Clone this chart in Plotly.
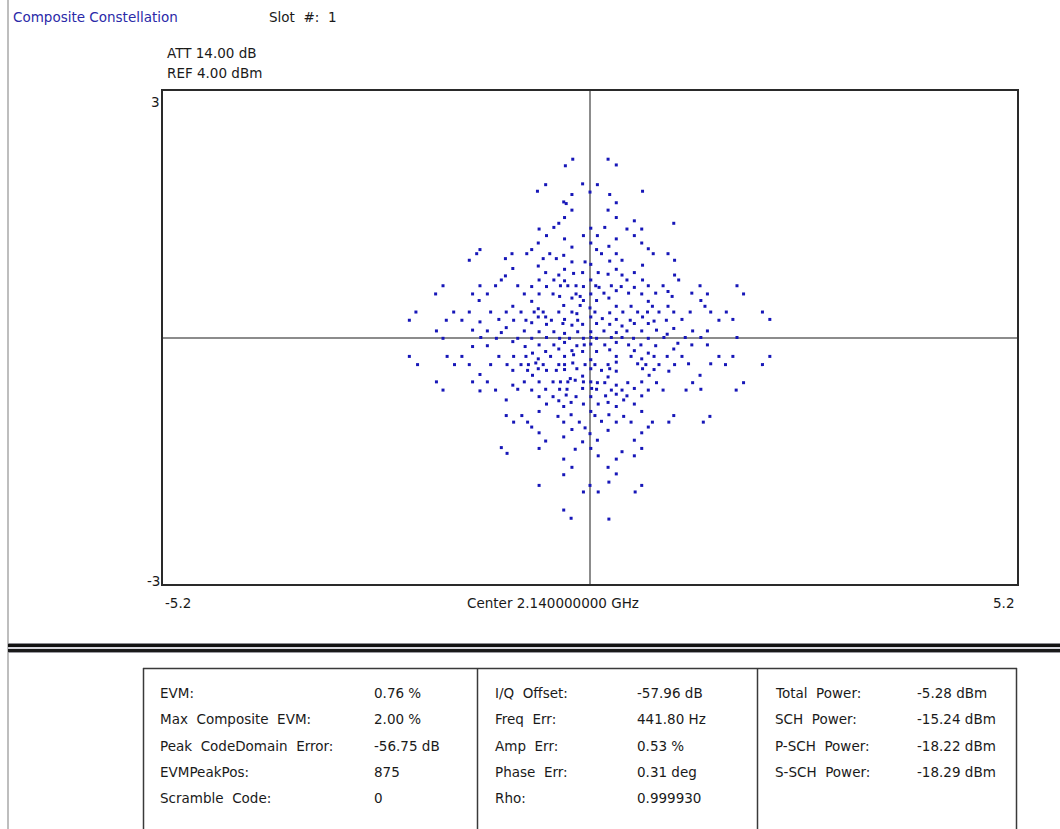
import plotly.graph_objects as go

# ---- constellation symbols (I, Q), grouped by quadrant ----
i_upper_left = [-0.21, -0.30, -0.54, -0.09, -0.64, 0.00, -0.22, -0.32, -0.29, -0.22,
                -0.31, -0.38, -0.44, -0.62, 0.01, -0.53, -0.08, -0.31, -0.63, 0.01,
                -0.71, -0.22, -1.34, -1.38, -0.95, -0.77, -0.49, -0.32, -1.47, -1.03,
                -0.57, -0.41, -0.22, -0.06, -0.63, 0.01, -0.94, -0.31, -0.54, -0.20,
                -0.09, -1.03, -0.38, -1.08, -0.62, -0.44, -0.31, 0.01, -1.79, -1.34,
                -1.15, -0.88, -0.71, -0.53, -0.36, -0.27, -0.17, -0.08, -1.88, -1.43,
                -1.25, -0.80, -0.62, -0.45, -0.37, -0.22, -0.17, -0.12, 0.01, -1.35,
                -0.71, -0.08, -0.94, -0.63, -0.32, -0.12, 0.00, -2.12, -1.66, -1.47,
                -1.21, -1.02, -0.84, -0.68, -0.57, -0.38, -0.22, -0.16, -0.63, -0.54,
                0.01, -2.20, -1.75, -1.56, -1.11, -0.93, -0.78, -0.47, -0.31, -0.15,
                -1.34, -0.71, -0.53, -0.22, -0.09, -0.33, -1.02, -1.87, -1.43, -1.25,
                -1.08, -0.80, -0.62, -0.44, -0.31, -0.15, 0.01]
q_upper_left = [2.17, 2.09, 1.86, 1.87, 1.78, 1.77, 1.74, 1.65, 1.63, 1.55,
                1.46, 1.39, 1.34, 1.32, 1.33, 1.24, 1.24, 1.20, 1.15, 1.15,
                1.07, 1.10, 1.07, 1.02, 1.02, 1.02, 1.02, 1.00, 0.94, 0.96,
                0.96, 0.96, 0.92, 0.92, 0.87, 0.89, 0.84, 0.83, 0.79, 0.78,
                0.79, 0.75, 0.76, 0.70, 0.70, 0.70, 0.69, 0.70, 0.63, 0.63,
                0.63, 0.63, 0.62, 0.62, 0.63, 0.63, 0.63, 0.62, 0.53, 0.53,
                0.53, 0.53, 0.53, 0.53, 0.50, 0.48, 0.53, 0.50, 0.53, 0.45,
                0.44, 0.45, 0.38, 0.35, 0.39, 0.39, 0.36, 0.31, 0.31, 0.31,
                0.31, 0.31, 0.31, 0.31, 0.31, 0.31, 0.31, 0.29, 0.25, 0.25,
                0.25, 0.21, 0.21, 0.21, 0.22, 0.21, 0.21, 0.21, 0.22, 0.21,
                0.19, 0.18, 0.16, 0.15, 0.16, 0.17, 0.12, 0.08, 0.09, 0.08,
                0.06, 0.08, 0.07, 0.07, 0.05, 0.07, 0.07]

i_upper_right = [0.22, 0.32, 0.09, 0.24, 0.64, 0.32, 0.22, 0.32, 0.54, 1.02,
                 0.18, 0.45, 0.63, 0.09, 0.54, 0.32, 0.08, 0.63, 0.71, 0.14,
                 0.32, 0.77, 0.95, 0.23, 0.24, 0.39, 1.03, 0.64, 0.32, 0.10,
                 0.22, 0.54, 0.39, 1.03, 0.45, 0.64, 1.08, 0.07, 0.11, 0.26,
                 0.38, 0.54, 0.71, 0.89, 1.34, 1.79, 0.17, 0.32, 0.47, 0.63,
                 0.80, 0.95, 1.00, 1.24, 1.43, 1.87, 0.23, 0.08, 0.71, 1.35,
                 0.50, 0.32, 0.76, 0.95, 1.40, 0.06, 0.24, 0.40, 0.58, 0.70,
                 0.84, 1.02, 1.22, 1.47, 1.66, 2.10, 0.15, 0.32, 0.49, 0.64,
                 0.78, 0.93, 1.12, 1.57, 1.74, 2.19, 0.08, 0.24, 0.39, 0.54,
                 0.71, 0.17, 0.32, 0.45, 0.63, 0.81, 0.94, 1.02, 1.25, 1.43]
q_upper_right = [2.17, 2.10, 1.86, 1.74, 1.78, 1.64, 1.55, 1.46, 1.42, 1.39,
                 1.34, 1.32, 1.32, 1.24, 1.24, 1.20, 1.07, 1.15, 1.08, 1.02,
                 1.02, 1.02, 1.02, 1.11, 0.93, 0.94, 0.94, 0.88, 0.83, 0.79,
                 0.77, 0.79, 0.76, 0.76, 0.70, 0.70, 0.70, 0.63, 0.61, 0.63,
                 0.62, 0.61, 0.63, 0.63, 0.63, 0.63, 0.54, 0.57, 0.54, 0.53,
                 0.54, 0.56, 0.50, 0.54, 0.53, 0.53, 0.48, 0.45, 0.44, 0.45,
                 0.38, 0.38, 0.38, 0.38, 0.38, 0.31, 0.30, 0.31, 0.31, 0.31,
                 0.31, 0.31, 0.31, 0.31, 0.31, 0.31, 0.23, 0.22, 0.21, 0.25,
                 0.20, 0.21, 0.22, 0.21, 0.22, 0.22, 0.17, 0.16, 0.14, 0.17,
                 0.17, 0.08, 0.06, 0.08, 0.08, 0.09, 0.04, 0.11, 0.08, 0.08]

i_lower_left = [-1.79, -1.33, -1.14, -0.88, -0.71, -0.53, -0.37, -0.25, -0.08, 0.01,
                -0.94, -0.31, -1.43, -1.25, -0.79, -0.62, -0.44, -0.38, -0.22, -0.16,
                -0.07, 0.01, -0.54, -0.70, -0.09, -2.20, -1.74, -1.56, -1.11, -0.93,
                -0.78, -0.48, -0.31, -0.20, -0.63, 0.01, -2.10, -1.65, -1.47, -1.21,
                -1.01, -0.84, -0.75, -0.66, -0.57, -0.38, -0.31, -0.21, -0.06, -0.94,
                -0.76, -0.63, -0.53, -0.41, -0.31, -0.16, 0.01, -1.34, -0.70, -0.09,
                -0.24, -1.87, -1.43, -1.25, -0.80, -0.62, -0.45, -0.36, -0.27, -0.18,
                -0.08, 0.01, -0.94, -1.79, -1.34, -1.15, -0.88, -0.71, -0.54, -0.37,
                -0.28, -0.09, 0.02, -0.62, -0.45, -0.17, 0.01, -0.38, -0.29, -1.02,
                -0.53, -0.32, -0.23, -0.08, -0.62, 0.01, -1.02, -0.83, -0.39, -0.23,
                -0.93, -0.76, -0.32, -0.13, -0.71, -0.22, -0.06, -0.62, 0.00, -0.32,
                -0.54, -0.09, -1.08, -0.62, -0.18, 0.01, -1.01, -0.32, -0.22, -0.32,
                -0.62, 0.00, -0.08, -0.32, -0.23]
q_lower_left = [-0.01, 0.00, -0.01, -0.01, -0.01, 0.00, -0.01, -0.01, -0.01, 0.00,
                -0.05, -0.06, -0.11, -0.10, -0.11, -0.09, -0.09, -0.14, -0.16, -0.10,
                -0.09, -0.08, -0.17, -0.19, -0.17, -0.23, -0.23, -0.23, -0.23, -0.23,
                -0.23, -0.23, -0.23, -0.21, -0.26, -0.27, -0.33, -0.33, -0.33, -0.33,
                -0.33, -0.33, -0.33, -0.31, -0.33, -0.33, -0.33, -0.31, -0.33, -0.40,
                -0.40, -0.38, -0.40, -0.40, -0.39, -0.38, -0.38, -0.45, -0.46, -0.47,
                -0.50, -0.54, -0.54, -0.54, -0.54, -0.54, -0.54, -0.54, -0.54, -0.52,
                -0.54, -0.54, -0.58, -0.64, -0.65, -0.64, -0.63, -0.64, -0.63, -0.63,
                -0.63, -0.62, -0.62, -0.72, -0.72, -0.72, -0.72, -0.77, -0.70, -0.76,
                -0.81, -0.84, -0.79, -0.81, -0.90, -0.90, -0.95, -0.95, -0.96, -0.94,
                -1.03, -1.03, -1.03, -1.03, -1.09, -1.12, -1.10, -1.16, -1.17, -1.21,
                -1.26, -1.27, -1.34, -1.35, -1.36, -1.35, -1.41, -1.48, -1.58, -1.67,
                -1.80, -1.80, -1.88, -2.10, -2.20]

i_lower_right = [0.08, 0.26, 0.39, 0.53, 0.71, 0.90, 1.16, 1.35, 1.79, 0.32,
                 0.47, 1.07, 0.62, 0.80, 1.24, 1.43, 0.18, 0.24, 0.54, 1.02,
                 0.08, 0.71, 0.32, 0.50, 0.63, 0.78, 0.94, 1.12, 1.57, 1.74,
                 2.19, 0.06, 0.22, 0.32, 0.58, 0.68, 0.84, 1.03, 1.20, 1.47,
                 1.65, 2.10, 0.14, 0.24, 0.32, 0.64, 0.78, 0.96, 0.22, 0.72,
                 1.34, 0.09, 0.18, 0.32, 0.46, 0.63, 0.81, 1.25, 1.87, 0.08,
                 0.26, 0.39, 0.54, 0.71, 0.89, 1.17, 1.35, 1.78, 0.19, 0.32,
                 0.45, 0.63, 0.41, 0.10, 0.22, 0.54, 0.32, 0.63, 0.06, 0.23,
                 0.41, 1.02, 1.46, 0.14, 0.32, 0.50, 0.71, 0.76, 0.96, 1.38,
                 0.22, 0.63, 0.09, 0.54, 0.63, 0.39, 0.10, 0.54, 0.32, 0.22,
                 0.32, 0.23, 0.63, 0.10, 0.55, 0.23]
q_lower_right = [-0.01, 0.00, 0.00, -0.01, -0.01, 0.00, 0.00, 0.00, 0.00, -0.06,
                 -0.09, -0.07, -0.09, -0.10, -0.09, -0.09, -0.09, -0.15, -0.16, -0.14,
                 -0.17, -0.19, -0.23, -0.23, -0.26, -0.23, -0.23, -0.23, -0.23, -0.23,
                 -0.23, -0.33, -0.33, -0.30, -0.32, -0.33, -0.33, -0.33, -0.32, -0.32,
                 -0.33, -0.33, -0.40, -0.38, -0.41, -0.38, -0.39, -0.41, -0.48, -0.46,
                 -0.46, -0.55, -0.55, -0.58, -0.55, -0.54, -0.55, -0.55, -0.55, -0.63,
                 -0.64, -0.64, -0.62, -0.64, -0.64, -0.64, -0.63, -0.64, -0.71, -0.69,
                 -0.71, -0.71, -0.76, -0.81, -0.79, -0.81, -0.84, -0.90, -0.95, -0.94,
                 -0.96, -0.95, -0.96, -1.02, -1.03, -1.03, -1.09, -1.03, -1.03, -1.03,
                 -1.13, -1.16, -1.25, -1.25, -1.35, -1.39, -1.44, -1.44, -1.48, -1.58,
                 -1.66, -1.76, -1.80, -1.88, -1.88, -2.21]

# ---- measurement summary table ----
col1_labels = ["EVM:", "Max Composite EVM:", "Peak CodeDomain Error:", "EVMPeakPos:", "Scramble Code:"]
col1_values = ["0.76 %", "2.00 %", "-56.75 dB", "875", "0"]
col2_labels = ["I/Q Offset:", "Freq Err:", "Amp Err:", "Phase Err:", "Rho:"]
col2_values = ["-57.96 dB", "441.80 Hz", "0.53 %", "0.31 deg", "0.999930"]
col3_labels = ["Total Power:", "SCH Power:", "P-SCH Power:", "S-SCH Power:"]
col3_values = ["-5.28 dBm", "-15.24 dBm", "-18.22 dBm", "-18.29 dBm"]

x_range = [-5.2, 5.2]
y_range = [-3, 3]

W, H = 1060, 829
FONT = "DejaVu Sans"
FS = 13.5


def px(x):
    return x / W


def py(y):
    return 1 - y / H


def wide(s):
    # instrument font renders word gaps wider; use doubled non-breaking spaces
    return s.replace(" ", "\u00a0\u00a0")


i_all = i_upper_left + i_upper_right + i_lower_left + i_lower_right
q_all = q_upper_left + q_upper_right + q_lower_left + q_lower_right

fig = go.Figure()
fig.add_trace(go.Scatter(
    x=i_all, y=q_all, mode="markers",
    marker=dict(symbol="square", size=3, color="#1616b8", line=dict(width=0)),
    hoverinfo="skip", showlegend=False,
))

fig.update_layout(
    width=W, height=H,
    margin=dict(l=0, r=0, t=0, b=0),
    paper_bgcolor="white", plot_bgcolor="white",
    font=dict(family=FONT, size=FS, color="#1a1a1a"),
    xaxis=dict(domain=[px(163), px(1017)], range=x_range, showgrid=False,
               zeroline=True, zerolinecolor="#8c8c8c", zerolinewidth=1.5,
               showline=True, mirror=True, linecolor="#2a2a2a", linewidth=2,
               showticklabels=False, ticks=""),
    yaxis=dict(domain=[py(584), py(91)], range=y_range, showgrid=False,
               zeroline=True, zerolinecolor="#8c8c8c", zerolinewidth=1.5,
               showline=True, mirror=True, linecolor="#2a2a2a", linewidth=2,
               showticklabels=False, ticks=""),
)

ann = []


def text(x, y, s, color="#1a1a1a", anchor="left"):
    ann.append(dict(x=px(x), y=py(y), xref="paper", yref="paper", text=s,
                    showarrow=False, xanchor=anchor, yanchor="middle",
                    font=dict(family=FONT, size=FS, color=color)))


# header
text(11, 17, "Composite Constellation", color="#2a2aa8")
text(267, 17, wide("Slot #: 1"))
text(165, 53, "ATT 14.00 dB")
text(165, 73, "REF 4.00 dBm")

# axis end labels
ann.append(dict(x=x_range[0], y=y_range[1], xref="x", yref="y", text="3", showarrow=False,
                xanchor="right", yanchor="middle", xshift=-1, yshift=-11))
ann.append(dict(x=x_range[0], y=y_range[0], xref="x", yref="y", text="-3", showarrow=False,
                xanchor="right", yanchor="middle", xshift=-1, yshift=3))
ann.append(dict(x=x_range[0], y=y_range[0], xref="x", yref="y", text="-5.2", showarrow=False,
                xanchor="left", yanchor="middle", xshift=0, yshift=-19))
ann.append(dict(x=x_range[1], y=y_range[0], xref="x", yref="y", text="5.2", showarrow=False,
                xanchor="right", yanchor="middle", xshift=-1, yshift=-19))
text(553, 603, "Center 2.140000000 GHz", anchor="center")

# table text
row_y = [693, 719, 746, 772, 798]
for lab, val, y in zip(col1_labels, col1_values, row_y):
    text(158, y, wide(lab))
    text(372, y, val)
for lab, val, y in zip(col2_labels, col2_values, row_y):
    text(493, y, wide(lab))
    text(635, y, val)
for lab, val, y in zip(col3_labels, col3_values, row_y):
    text(773, y, wide(lab))
    text(915, y, val)

fig.update_layout(annotations=ann)

shapes = []


def hline(x0, x1, y, color, w):
    shapes.append(dict(type="line", xref="paper", yref="paper", x0=px(x0), x1=px(x1),
                       y0=py(y), y1=py(y), line=dict(color=color, width=w)))


def vline(x, y0, y1, color, w):
    shapes.append(dict(type="line", xref="paper", yref="paper", x0=px(x), x1=px(x),
                       y0=py(y0), y1=py(y1), line=dict(color=color, width=w)))


# left frame edge
vline(8, 0, H, "#a8a8a8", 1.5)
# double separator rule
hline(8, W, 643.5, "#8a8a90", 1)
hline(8, W, 645.5, "#111111", 3)
hline(8, W, 648, "#c8c8d0", 1.5)
hline(8, W, 650.5, "#1a1a1a", 3)
hline(8, W, 652.5, "#9a9aa0", 1)
# table frame
hline(143, 1017, 668.5, "#3a3a3a", 1.5)
vline(143.5, 668, H, "#3a3a3a", 1.5)
vline(477.5, 668, H, "#3a3a3a", 1.5)
vline(757.5, 668, H, "#3a3a3a", 1.5)
vline(1016.5, 668, H, "#3a3a3a", 1.5)

fig.update_layout(shapes=shapes)

fig.write_html("out.html")
